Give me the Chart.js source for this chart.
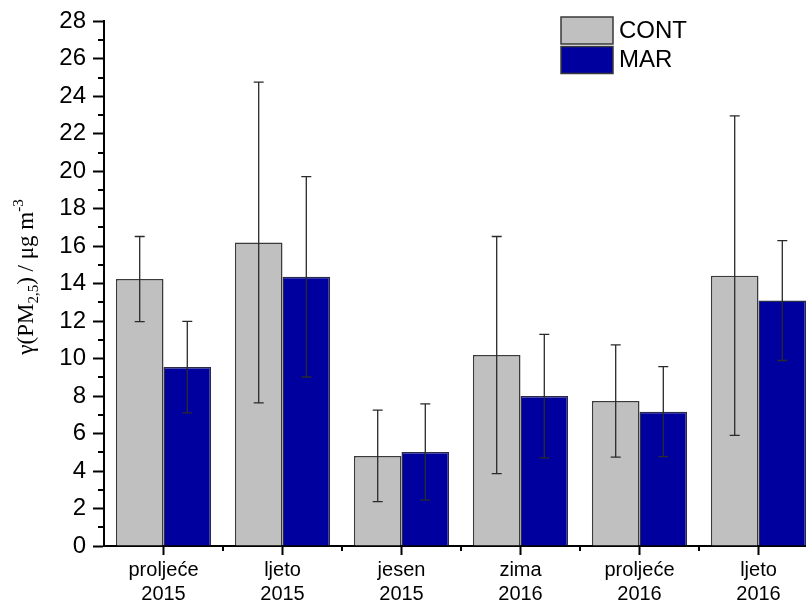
<!DOCTYPE html>
<html lang="hr">
  <head>
    <meta charset="UTF-8">
    <title>PM2,5</title>
    <script src="https://cdn.jsdelivr.net/npm/chart.js"></script>
    <style>
      html, body { margin: 0; padding: 0; background: #fff; overflow: hidden; }
      #okvir { width: 806px; height: 602px; overflow: hidden; }
      #platno { width: 820px; height: 602px; }
    </style>
  </head>
  <body>
    <div id="okvir">
      <div id="platno"><canvas id="grafico1"></canvas></div>
    </div>

    <script>
      // podaci ocitani s grafa
      const sezone = [["proljeće", "2015"], ["ljeto", "2015"], ["jesen", "2015"], ["zima", "2016"], ["proljeće", "2016"], ["ljeto", "2016"]]
      const cont = [14.25, 16.2, 4.81, 10.19, 7.74, 14.43]
      const contSd = [2.27, 8.56, 2.44, 6.33, 3.0, 8.53]
      const mar = [9.55, 14.37, 5.02, 8.0, 7.17, 13.1]
      const marSd = [2.44, 5.35, 2.57, 3.3, 2.4, 3.2]
      const yTicks = [0, 2, 4, 6, 8, 10, 12, 14, 16, 18, 20, 22, 24, 26, 28]

      const sans = "'Liberation Sans', Arial, sans-serif"
      const serif = "'Liberation Serif', 'Times New Roman', serif"

      // error bars, minor ticks, legend, y title
      const dodaci = {
        id: 'dodaci',
        afterDatasetsDraw(chart) {
          const c = chart.ctx, y = chart.scales.y
          c.save()
          c.strokeStyle = '#2a2a2a'
          c.lineWidth = 1.3
          chart.data.datasets.forEach((ds, i) => {
            chart.getDatasetMeta(i).data.forEach((bar, j) => {
              const v = ds.data[j], e = ds.greske[j]
              const gore = y.getPixelForValue(v + e), dolje = y.getPixelForValue(v - e)
              c.beginPath()
              c.moveTo(bar.x, gore); c.lineTo(bar.x, dolje)
              c.moveTo(bar.x - 5, gore); c.lineTo(bar.x + 5, gore)
              c.moveTo(bar.x - 5, dolje); c.lineTo(bar.x + 5, dolje)
              c.stroke()
            })
          })
          c.restore()
        },
        afterDraw(chart) {
          const c = chart.ctx, y = chart.scales.y, x = chart.scales.x
          const a = chart.chartArea
          c.save()
          c.strokeStyle = '#000'
          c.lineWidth = 2
          c.beginPath()
          for (let v = 1; v < 28; v += 2) {
            const py = Math.round(y.getPixelForValue(v))
            c.moveTo(a.left - 6, py); c.lineTo(a.left, py)
          }
          for (let k = 1; k < sezone.length; k++) {
            const px = (x.getPixelForValue(k - 1) + x.getPixelForValue(k)) / 2
            c.moveTo(px, a.bottom); c.lineTo(px, a.bottom + 5)
          }
          c.stroke()

          // legenda
          c.font = '24px ' + sans
          c.textBaseline = 'middle'
          c.textAlign = 'left'
          chart.data.datasets.forEach((ds, i) => {
            const by = 17 + i * 29.5
            c.fillStyle = ds.backgroundColor
            c.fillRect(561, by, 52, 27)
            c.strokeStyle = '#3a3a3a'
            c.lineWidth = 1.5
            c.strokeRect(561, by, 52, 27)
            c.fillStyle = '#000'
            c.fillText(ds.label, 619, by + 14)
          })

          // naslov osi y
          c.translate(33, 277)
          c.rotate(-Math.PI / 2)
          c.textBaseline = 'alphabetic'
          c.fillStyle = '#000'
          const dijelovi = [
            ['γ(PM', 23, 0], ['2,5', 15, 5], [') / μg m', 23, 0], ['-3', 15, -10]
          ]
          let sirina = 0
          dijelovi.forEach(d => { c.font = d[1] + 'px ' + serif; sirina += c.measureText(d[0]).width })
          let pos = -sirina / 2
          dijelovi.forEach(d => {
            c.font = d[1] + 'px ' + serif
            c.fillText(d[0], pos, d[2])
            pos += c.measureText(d[0]).width
          })
          c.restore()
        }
      }

      const ctx = document.getElementById('grafico1')

      let grafico1 = new Chart(ctx, {
        type: 'bar',
        data: {
          labels: sezone,
          datasets: [{
            label: 'CONT',
            data: cont,
            greske: contSd,
            backgroundColor: '#c0c0c0',
            borderColor: '#3a3a3a',
            borderWidth: 1.5
          }, {
            label: 'MAR',
            data: mar,
            greske: marSd,
            backgroundColor: '#00009f',
            borderColor: '#2a2a4a',
            borderWidth: 1.5
          }]
        },
        options: {
          responsive: true,
          maintainAspectRatio: false,
          animation: false,
          devicePixelRatio: 1,
          categoryPercentage: 0.8,
          barPercentage: 1.0,
          layout: { padding: { top: 20, right: 2, left: 0, bottom: 0 } },
          plugins: {
            legend: { display: false },
            tooltip: { enabled: false }
          },
          scales: {
            x: {
              offset: true,
              afterFit(s) { s.height = 56 },
              grid: {
                offset: false,
                drawOnChartArea: false,
                tickLength: 9,
                tickColor: '#000',
                tickWidth: 2
              },
              border: { display: true, color: '#000', width: 2 },
              ticks: {
                color: '#000',
                padding: 3,
                maxRotation: 0,
                autoSkip: false,
                font: { family: sans, size: 20, lineHeight: 1.2 }
              }
            },
            y: {
              min: 0,
              max: 28,
              afterFit(s) { s.width = 104 },
              afterBuildTicks(s) { s.ticks = yTicks.map(v => ({ value: v })) },
              grid: {
                drawOnChartArea: false,
                tickLength: 11,
                tickColor: '#000',
                tickWidth: 2
              },
              border: { display: true, color: '#000', width: 2 },
              ticks: {
                color: '#000',
                padding: 7,
                font: { family: sans, size: 24 }
              }
            }
          }
        },
        plugins: [dodaci]
      })
    </script>
  </body>
</html>
